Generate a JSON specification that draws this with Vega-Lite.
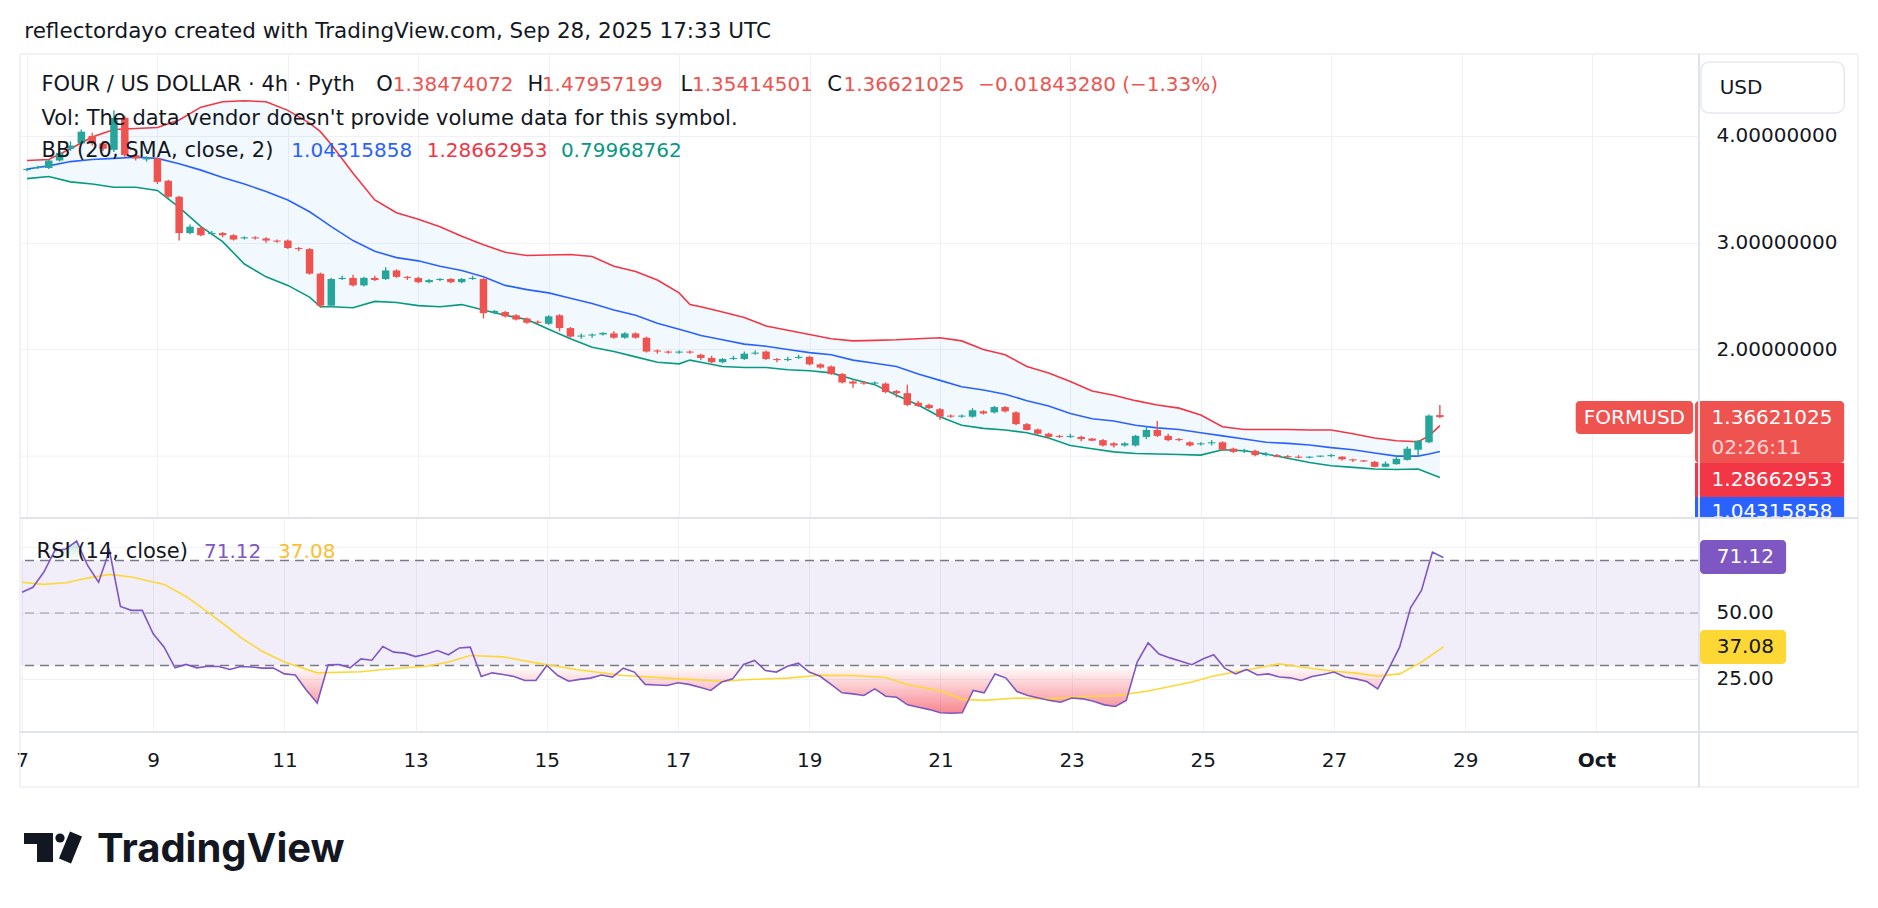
{
  "$schema": "https://vega.github.io/schema/vega-lite/v6.json",
  "autosize": "none",
  "padding": {"left": 21, "top": 54, "right": 1857, "bottom": 854},
  "background": "white",
  "bounds": "flush",
  "spacing": 0,
  "config": {
    "view": {"stroke": null},
    "font": "DejaVu Sans",
    "axis": {"domain": false, "ticks": false, "tickSize": 0, "title": null, "gridColor": "#eff1f5", "gridWidth": 1, "labelFont": "DejaVu Sans", "labelFontSize": 20, "labelColor": "#131722", "labelOverlap": false, "labelFlush": false},
    "text": {"font": "DejaVu Sans", "fontSize": 21, "align": "left", "baseline": "middle", "color": "#131722"}
  },
  "datasets": {
    "candles": [
      {"t":"2025-09-07T00:00Z","o":3.68,"h":3.70,"l":3.67,"c":3.69,"r":57.9},
      {"t":"2025-09-07T04:00Z","o":3.70,"h":3.72,"l":3.69,"c":3.71,"r":59.8},
      {"t":"2025-09-07T08:00Z","o":3.70,"h":3.78,"l":3.69,"c":3.77,"r":65.6},
      {"t":"2025-09-07T12:00Z","o":3.77,"h":3.86,"l":3.76,"c":3.84,"r":73.8},
      {"t":"2025-09-07T16:00Z","o":3.88,"h":3.95,"l":3.86,"c":3.91,"r":74.4},
      {"t":"2025-09-07T20:00Z","o":3.93,"h":4.06,"l":3.92,"c":4.04,"r":77.4},
      {"t":"2025-09-08T00:00Z","o":4.00,"h":4.03,"l":3.91,"c":3.93,"r":68.1},
      {"t":"2025-09-08T04:00Z","o":3.93,"h":3.95,"l":3.86,"c":3.88,"r":61.7},
      {"t":"2025-09-08T08:00Z","o":3.87,"h":4.24,"l":3.85,"c":4.17,"r":73.8},
      {"t":"2025-09-08T12:00Z","o":4.17,"h":4.19,"l":3.80,"c":3.82,"r":52.5},
      {"t":"2025-09-08T16:00Z","o":3.82,"h":3.84,"l":3.77,"c":3.79,"r":51.0},
      {"t":"2025-09-08T20:00Z","o":3.78,"h":3.81,"l":3.76,"c":3.79,"r":51.0},
      {"t":"2025-09-09T00:00Z","o":3.79,"h":3.80,"l":3.55,"c":3.57,"r":42.1},
      {"t":"2025-09-09T04:00Z","o":3.58,"h":3.59,"l":3.42,"c":3.43,"r":37.0},
      {"t":"2025-09-09T08:00Z","o":3.43,"h":3.44,"l":3.02,"c":3.09,"r":29.1},
      {"t":"2025-09-09T12:00Z","o":3.09,"h":3.17,"l":3.08,"c":3.15,"r":30.4},
      {"t":"2025-09-09T16:00Z","o":3.14,"h":3.15,"l":3.06,"c":3.07,"r":29.1},
      {"t":"2025-09-09T20:00Z","o":3.08,"h":3.11,"l":3.07,"c":3.09,"r":29.7},
      {"t":"2025-09-10T00:00Z","o":3.09,"h":3.10,"l":3.05,"c":3.07,"r":29.6},
      {"t":"2025-09-10T04:00Z","o":3.07,"h":3.08,"l":3.02,"c":3.03,"r":28.5},
      {"t":"2025-09-10T08:00Z","o":3.04,"h":3.06,"l":3.03,"c":3.05,"r":29.6},
      {"t":"2025-09-10T12:00Z","o":3.05,"h":3.06,"l":3.03,"c":3.04,"r":29.4},
      {"t":"2025-09-10T16:00Z","o":3.04,"h":3.05,"l":3.00,"c":3.02,"r":29.0},
      {"t":"2025-09-10T20:00Z","o":3.02,"h":3.03,"l":3.00,"c":3.01,"r":29.0},
      {"t":"2025-09-11T00:00Z","o":3.02,"h":3.03,"l":2.94,"c":2.95,"r":26.8},
      {"t":"2025-09-11T04:00Z","o":2.95,"h":2.96,"l":2.92,"c":2.94,"r":26.4},
      {"t":"2025-09-11T08:00Z","o":2.94,"h":2.95,"l":2.70,"c":2.71,"r":20.7},
      {"t":"2025-09-11T12:00Z","o":2.71,"h":2.72,"l":2.39,"c":2.41,"r":15.7},
      {"t":"2025-09-11T16:00Z","o":2.41,"h":2.67,"l":2.40,"c":2.66,"r":30.3},
      {"t":"2025-09-11T20:00Z","o":2.66,"h":2.69,"l":2.65,"c":2.67,"r":30.4},
      {"t":"2025-09-12T00:00Z","o":2.67,"h":2.70,"l":2.59,"c":2.60,"r":29.1},
      {"t":"2025-09-12T04:00Z","o":2.60,"h":2.68,"l":2.59,"c":2.67,"r":32.5},
      {"t":"2025-09-12T08:00Z","o":2.67,"h":2.69,"l":2.64,"c":2.65,"r":32.0},
      {"t":"2025-09-12T12:00Z","o":2.66,"h":2.77,"l":2.65,"c":2.74,"r":37.2},
      {"t":"2025-09-12T16:00Z","o":2.74,"h":2.75,"l":2.67,"c":2.68,"r":35.1},
      {"t":"2025-09-12T20:00Z","o":2.68,"h":2.69,"l":2.65,"c":2.67,"r":34.7},
      {"t":"2025-09-13T00:00Z","o":2.67,"h":2.68,"l":2.62,"c":2.63,"r":33.4},
      {"t":"2025-09-13T04:00Z","o":2.63,"h":2.66,"l":2.62,"c":2.65,"r":34.4},
      {"t":"2025-09-13T08:00Z","o":2.65,"h":2.67,"l":2.64,"c":2.66,"r":35.7},
      {"t":"2025-09-13T12:00Z","o":2.66,"h":2.67,"l":2.62,"c":2.63,"r":34.1},
      {"t":"2025-09-13T16:00Z","o":2.63,"h":2.67,"l":2.62,"c":2.66,"r":36.7},
      {"t":"2025-09-13T20:00Z","o":2.66,"h":2.69,"l":2.65,"c":2.67,"r":37.0},
      {"t":"2025-09-14T00:00Z","o":2.66,"h":2.67,"l":2.29,"c":2.34,"r":25.8},
      {"t":"2025-09-14T04:00Z","o":2.34,"h":2.37,"l":2.33,"c":2.36,"r":27.2},
      {"t":"2025-09-14T08:00Z","o":2.35,"h":2.36,"l":2.30,"c":2.31,"r":26.6},
      {"t":"2025-09-14T12:00Z","o":2.32,"h":2.33,"l":2.27,"c":2.28,"r":25.8},
      {"t":"2025-09-14T16:00Z","o":2.29,"h":2.30,"l":2.24,"c":2.25,"r":24.3},
      {"t":"2025-09-14T20:00Z","o":2.26,"h":2.27,"l":2.24,"c":2.25,"r":24.3},
      {"t":"2025-09-15T00:00Z","o":2.24,"h":2.32,"l":2.23,"c":2.31,"r":30.0},
      {"t":"2025-09-15T04:00Z","o":2.32,"h":2.33,"l":2.17,"c":2.20,"r":26.2},
      {"t":"2025-09-15T08:00Z","o":2.20,"h":2.21,"l":2.11,"c":2.12,"r":24.0},
      {"t":"2025-09-15T12:00Z","o":2.12,"h":2.15,"l":2.10,"c":2.13,"r":24.7},
      {"t":"2025-09-15T16:00Z","o":2.13,"h":2.15,"l":2.11,"c":2.14,"r":25.2},
      {"t":"2025-09-15T20:00Z","o":2.14,"h":2.16,"l":2.13,"c":2.155,"r":26.4},
      {"t":"2025-09-16T00:00Z","o":2.15,"h":2.17,"l":2.10,"c":2.11,"r":25.6},
      {"t":"2025-09-16T04:00Z","o":2.11,"h":2.16,"l":2.10,"c":2.15,"r":29.0},
      {"t":"2025-09-16T08:00Z","o":2.15,"h":2.16,"l":2.10,"c":2.11,"r":27.5},
      {"t":"2025-09-16T12:00Z","o":2.11,"h":2.12,"l":1.97,"c":1.98,"r":22.8},
      {"t":"2025-09-16T16:00Z","o":1.99,"h":2.00,"l":1.96,"c":1.98,"r":22.6},
      {"t":"2025-09-16T20:00Z","o":1.98,"h":1.99,"l":1.96,"c":1.97,"r":22.4},
      {"t":"2025-09-17T00:00Z","o":1.97,"h":1.99,"l":1.96,"c":1.98,"r":23.4},
      {"t":"2025-09-17T04:00Z","o":1.98,"h":1.99,"l":1.96,"c":1.97,"r":22.8},
      {"t":"2025-09-17T08:00Z","o":1.95,"h":1.96,"l":1.90,"c":1.92,"r":21.7},
      {"t":"2025-09-17T12:00Z","o":1.92,"h":1.94,"l":1.87,"c":1.88,"r":20.5},
      {"t":"2025-09-17T16:00Z","o":1.88,"h":1.92,"l":1.87,"c":1.91,"r":23.7},
      {"t":"2025-09-17T20:00Z","o":1.91,"h":1.94,"l":1.90,"c":1.92,"r":24.9},
      {"t":"2025-09-18T00:00Z","o":1.91,"h":1.98,"l":1.90,"c":1.96,"r":30.4},
      {"t":"2025-09-18T04:00Z","o":1.96,"h":1.99,"l":1.95,"c":1.97,"r":31.9},
      {"t":"2025-09-18T08:00Z","o":1.98,"h":1.99,"l":1.90,"c":1.91,"r":28.1},
      {"t":"2025-09-18T12:00Z","o":1.91,"h":1.92,"l":1.88,"c":1.90,"r":27.5},
      {"t":"2025-09-18T16:00Z","o":1.90,"h":1.93,"l":1.89,"c":1.91,"r":29.7},
      {"t":"2025-09-18T20:00Z","o":1.92,"h":1.95,"l":1.91,"c":1.93,"r":30.9},
      {"t":"2025-09-19T00:00Z","o":1.93,"h":1.94,"l":1.85,"c":1.86,"r":27.5},
      {"t":"2025-09-19T04:00Z","o":1.86,"h":1.87,"l":1.82,"c":1.83,"r":25.9},
      {"t":"2025-09-19T08:00Z","o":1.84,"h":1.85,"l":1.76,"c":1.77,"r":22.8},
      {"t":"2025-09-19T12:00Z","o":1.77,"h":1.78,"l":1.68,"c":1.69,"r":19.6},
      {"t":"2025-09-19T16:00Z","o":1.70,"h":1.71,"l":1.64,"c":1.68,"r":19.2},
      {"t":"2025-09-19T20:00Z","o":1.69,"h":1.70,"l":1.67,"c":1.68,"r":18.6},
      {"t":"2025-09-20T00:00Z","o":1.68,"h":1.70,"l":1.67,"c":1.69,"r":21.1},
      {"t":"2025-09-20T04:00Z","o":1.68,"h":1.69,"l":1.59,"c":1.60,"r":18.3},
      {"t":"2025-09-20T08:00Z","o":1.61,"h":1.62,"l":1.55,"c":1.59,"r":17.9},
      {"t":"2025-09-20T12:00Z","o":1.59,"h":1.67,"l":1.47,"c":1.48,"r":15.0},
      {"t":"2025-09-20T16:00Z","o":1.50,"h":1.52,"l":1.46,"c":1.47,"r":14.1},
      {"t":"2025-09-20T20:00Z","o":1.48,"h":1.49,"l":1.44,"c":1.45,"r":13.2},
      {"t":"2025-09-21T00:00Z","o":1.44,"h":1.45,"l":1.34,"c":1.37,"r":12.0},
      {"t":"2025-09-21T04:00Z","o":1.38,"h":1.39,"l":1.36,"c":1.37,"r":11.8},
      {"t":"2025-09-21T08:00Z","o":1.37,"h":1.39,"l":1.36,"c":1.38,"r":12.0},
      {"t":"2025-09-21T12:00Z","o":1.37,"h":1.45,"l":1.36,"c":1.43,"r":20.5},
      {"t":"2025-09-21T16:00Z","o":1.42,"h":1.43,"l":1.39,"c":1.40,"r":19.6},
      {"t":"2025-09-21T20:00Z","o":1.41,"h":1.47,"l":1.40,"c":1.46,"r":26.8},
      {"t":"2025-09-22T00:00Z","o":1.46,"h":1.47,"l":1.41,"c":1.42,"r":25.2},
      {"t":"2025-09-22T04:00Z","o":1.41,"h":1.42,"l":1.29,"c":1.30,"r":20.1},
      {"t":"2025-09-22T08:00Z","o":1.30,"h":1.31,"l":1.24,"c":1.245,"r":18.6},
      {"t":"2025-09-22T12:00Z","o":1.25,"h":1.26,"l":1.20,"c":1.21,"r":17.6},
      {"t":"2025-09-22T16:00Z","o":1.21,"h":1.22,"l":1.17,"c":1.18,"r":16.7},
      {"t":"2025-09-22T20:00Z","o":1.19,"h":1.20,"l":1.17,"c":1.18,"r":16.0},
      {"t":"2025-09-23T00:00Z","o":1.18,"h":1.21,"l":1.17,"c":1.19,"r":17.6},
      {"t":"2025-09-23T04:00Z","o":1.18,"h":1.19,"l":1.14,"c":1.16,"r":17.3},
      {"t":"2025-09-23T08:00Z","o":1.165,"h":1.17,"l":1.14,"c":1.145,"r":16.4},
      {"t":"2025-09-23T12:00Z","o":1.15,"h":1.16,"l":1.09,"c":1.10,"r":15.0},
      {"t":"2025-09-23T16:00Z","o":1.12,"h":1.13,"l":1.08,"c":1.10,"r":14.4},
      {"t":"2025-09-23T20:00Z","o":1.10,"h":1.13,"l":1.09,"c":1.12,"r":16.7},
      {"t":"2025-09-24T00:00Z","o":1.10,"h":1.20,"l":1.09,"c":1.19,"r":31.3},
      {"t":"2025-09-24T04:00Z","o":1.18,"h":1.28,"l":1.16,"c":1.245,"r":38.6},
      {"t":"2025-09-24T08:00Z","o":1.245,"h":1.33,"l":1.18,"c":1.19,"r":34.4},
      {"t":"2025-09-24T12:00Z","o":1.19,"h":1.21,"l":1.14,"c":1.15,"r":32.9},
      {"t":"2025-09-24T16:00Z","o":1.16,"h":1.17,"l":1.14,"c":1.15,"r":31.6},
      {"t":"2025-09-24T20:00Z","o":1.13,"h":1.14,"l":1.09,"c":1.10,"r":30.3},
      {"t":"2025-09-25T00:00Z","o":1.11,"h":1.13,"l":1.10,"c":1.12,"r":32.5},
      {"t":"2025-09-25T04:00Z","o":1.12,"h":1.15,"l":1.10,"c":1.13,"r":34.1},
      {"t":"2025-09-25T08:00Z","o":1.13,"h":1.14,"l":1.05,"c":1.06,"r":29.0},
      {"t":"2025-09-25T12:00Z","o":1.07,"h":1.08,"l":1.03,"c":1.04,"r":26.8},
      {"t":"2025-09-25T16:00Z","o":1.045,"h":1.07,"l":1.03,"c":1.055,"r":28.5},
      {"t":"2025-09-25T20:00Z","o":1.05,"h":1.06,"l":1.00,"c":1.01,"r":26.4},
      {"t":"2025-09-26T00:00Z","o":1.01,"h":1.04,"l":1.00,"c":1.02,"r":26.8},
      {"t":"2025-09-26T04:00Z","o":1.01,"h":1.02,"l":0.99,"c":0.995,"r":25.6},
      {"t":"2025-09-26T08:00Z","o":1.00,"h":1.01,"l":0.98,"c":0.99,"r":25.3},
      {"t":"2025-09-26T12:00Z","o":0.995,"h":1.01,"l":0.98,"c":0.985,"r":24.3},
      {"t":"2025-09-26T16:00Z","o":0.985,"h":1.00,"l":0.98,"c":0.995,"r":25.8},
      {"t":"2025-09-26T20:00Z","o":0.995,"h":1.005,"l":0.99,"c":1.005,"r":26.6},
      {"t":"2025-09-27T00:00Z","o":1.00,"h":1.02,"l":0.99,"c":1.01,"r":27.5},
      {"t":"2025-09-27T04:00Z","o":0.995,"h":1.00,"l":0.96,"c":0.97,"r":25.6},
      {"t":"2025-09-27T08:00Z","o":0.97,"h":0.975,"l":0.945,"c":0.96,"r":24.9},
      {"t":"2025-09-27T12:00Z","o":0.96,"h":0.965,"l":0.945,"c":0.95,"r":23.9},
      {"t":"2025-09-27T16:00Z","o":0.947,"h":0.955,"l":0.895,"c":0.90,"r":21.1},
      {"t":"2025-09-27T20:00Z","o":0.90,"h":0.95,"l":0.895,"c":0.93,"r":28.7},
      {"t":"2025-09-28T00:00Z","o":0.925,"h":1.01,"l":0.92,"c":0.975,"r":37.0},
      {"t":"2025-09-28T04:00Z","o":0.965,"h":1.09,"l":0.96,"c":1.07,"r":52.0},
      {"t":"2025-09-28T08:00Z","o":1.06,"h":1.15,"l":0.995,"c":1.145,"r":58.6},
      {"t":"2025-09-28T12:00Z","o":1.13,"h":1.39,"l":1.12,"c":1.38,"r":73.2},
      {"t":"2025-09-28T16:00Z","o":1.38474072,"h":1.47957199,"l":1.35414501,"c":1.36621025,"r":71.12}
    ],
    "bb": [
      {"t":"2025-09-07T00:00Z","u":3.77,"m":3.69,"lo":3.60},
      {"t":"2025-09-07T08:00Z","u":3.78,"m":3.72,"lo":3.62},
      {"t":"2025-09-07T16:00Z","u":3.88,"m":3.76,"lo":3.57},
      {"t":"2025-09-08T00:00Z","u":3.99,"m":3.78,"lo":3.55},
      {"t":"2025-09-08T08:00Z","u":4.06,"m":3.79,"lo":3.52},
      {"t":"2025-09-08T16:00Z","u":4.07,"m":3.80,"lo":3.52},
      {"t":"2025-09-09T00:00Z","u":4.08,"m":3.79,"lo":3.49},
      {"t":"2025-09-09T08:00Z","u":4.15,"m":3.74,"lo":3.33},
      {"t":"2025-09-09T16:00Z","u":4.27,"m":3.68,"lo":3.15},
      {"t":"2025-09-10T00:00Z","u":4.32,"m":3.61,"lo":3.01},
      {"t":"2025-09-10T08:00Z","u":4.33,"m":3.55,"lo":2.80},
      {"t":"2025-09-10T16:00Z","u":4.32,"m":3.48,"lo":2.68},
      {"t":"2025-09-11T00:00Z","u":4.24,"m":3.40,"lo":2.60},
      {"t":"2025-09-11T08:00Z","u":4.12,"m":3.29,"lo":2.49},
      {"t":"2025-09-11T12:00Z","u":4.04,"m":3.22,"lo":2.40},
      {"t":"2025-09-11T16:00Z","u":3.92,"m":3.15,"lo":2.40},
      {"t":"2025-09-12T00:00Z","u":3.65,"m":3.02,"lo":2.39},
      {"t":"2025-09-12T08:00Z","u":3.40,"m":2.92,"lo":2.45},
      {"t":"2025-09-12T16:00Z","u":3.28,"m":2.86,"lo":2.44},
      {"t":"2025-09-13T00:00Z","u":3.22,"m":2.83,"lo":2.41},
      {"t":"2025-09-13T08:00Z","u":3.15,"m":2.78,"lo":2.40},
      {"t":"2025-09-13T16:00Z","u":3.06,"m":2.74,"lo":2.42},
      {"t":"2025-09-14T00:00Z","u":2.98,"m":2.68,"lo":2.37},
      {"t":"2025-09-14T08:00Z","u":2.91,"m":2.60,"lo":2.32},
      {"t":"2025-09-14T16:00Z","u":2.88,"m":2.56,"lo":2.28},
      {"t":"2025-09-15T00:00Z","u":2.885,"m":2.53,"lo":2.19},
      {"t":"2025-09-15T08:00Z","u":2.89,"m":2.48,"lo":2.10},
      {"t":"2025-09-15T16:00Z","u":2.87,"m":2.43,"lo":2.02},
      {"t":"2025-09-16T00:00Z","u":2.78,"m":2.37,"lo":1.98},
      {"t":"2025-09-16T08:00Z","u":2.73,"m":2.32,"lo":1.93},
      {"t":"2025-09-16T16:00Z","u":2.65,"m":2.245,"lo":1.88},
      {"t":"2025-09-17T00:00Z","u":2.53,"m":2.19,"lo":1.865},
      {"t":"2025-09-17T04:00Z","u":2.42,"m":2.16,"lo":1.90},
      {"t":"2025-09-17T08:00Z","u":2.40,"m":2.13,"lo":1.88},
      {"t":"2025-09-17T16:00Z","u":2.35,"m":2.09,"lo":1.84},
      {"t":"2025-09-18T00:00Z","u":2.30,"m":2.05,"lo":1.83},
      {"t":"2025-09-18T08:00Z","u":2.22,"m":2.03,"lo":1.83},
      {"t":"2025-09-18T16:00Z","u":2.18,"m":2.00,"lo":1.81},
      {"t":"2025-09-19T00:00Z","u":2.14,"m":1.97,"lo":1.80},
      {"t":"2025-09-19T08:00Z","u":2.10,"m":1.95,"lo":1.78},
      {"t":"2025-09-19T16:00Z","u":2.08,"m":1.90,"lo":1.72},
      {"t":"2025-09-20T00:00Z","u":2.085,"m":1.87,"lo":1.67},
      {"t":"2025-09-20T08:00Z","u":2.09,"m":1.84,"lo":1.57},
      {"t":"2025-09-20T16:00Z","u":2.10,"m":1.77,"lo":1.48},
      {"t":"2025-09-21T00:00Z","u":2.11,"m":1.71,"lo":1.37},
      {"t":"2025-09-21T08:00Z","u":2.08,"m":1.65,"lo":1.29},
      {"t":"2025-09-21T16:00Z","u":2.00,"m":1.62,"lo":1.26},
      {"t":"2025-09-22T00:00Z","u":1.95,"m":1.58,"lo":1.245},
      {"t":"2025-09-22T08:00Z","u":1.84,"m":1.52,"lo":1.22},
      {"t":"2025-09-22T16:00Z","u":1.78,"m":1.47,"lo":1.17},
      {"t":"2025-09-23T00:00Z","u":1.70,"m":1.40,"lo":1.10},
      {"t":"2025-09-23T08:00Z","u":1.61,"m":1.35,"lo":1.07},
      {"t":"2025-09-23T16:00Z","u":1.57,"m":1.33,"lo":1.04},
      {"t":"2025-09-24T00:00Z","u":1.52,"m":1.29,"lo":1.025},
      {"t":"2025-09-24T08:00Z","u":1.48,"m":1.265,"lo":1.02},
      {"t":"2025-09-24T16:00Z","u":1.45,"m":1.25,"lo":1.015},
      {"t":"2025-09-25T00:00Z","u":1.385,"m":1.22,"lo":1.01},
      {"t":"2025-09-25T08:00Z","u":1.275,"m":1.19,"lo":1.06},
      {"t":"2025-09-25T16:00Z","u":1.25,"m":1.16,"lo":1.05},
      {"t":"2025-09-26T00:00Z","u":1.25,"m":1.13,"lo":1.02},
      {"t":"2025-09-26T08:00Z","u":1.25,"m":1.12,"lo":0.98},
      {"t":"2025-09-26T16:00Z","u":1.245,"m":1.105,"lo":0.94},
      {"t":"2025-09-27T00:00Z","u":1.245,"m":1.08,"lo":0.91},
      {"t":"2025-09-27T08:00Z","u":1.21,"m":1.06,"lo":0.895},
      {"t":"2025-09-27T16:00Z","u":1.17,"m":1.03,"lo":0.88},
      {"t":"2025-09-28T00:00Z","u":1.145,"m":1.00,"lo":0.875},
      {"t":"2025-09-28T08:00Z","u":1.135,"m":1.00,"lo":0.88},
      {"t":"2025-09-28T12:00Z","u":1.19,"m":1.02,"lo":0.84},
      {"t":"2025-09-28T16:00Z","u":1.28662953,"m":1.04315858,"lo":0.79968762}
    ],
    "ma": [
      {"t":"2025-09-07T00:00Z","v":61.7},{"t":"2025-09-07T08:00Z","v":60.9},{"t":"2025-09-07T16:00Z","v":61.5},
      {"t":"2025-09-08T00:00Z","v":63.3},{"t":"2025-09-08T08:00Z","v":64.7},{"t":"2025-09-08T16:00Z","v":63.7},
      {"t":"2025-09-09T04:00Z","v":60.9},{"t":"2025-09-09T12:00Z","v":56.3},{"t":"2025-09-09T20:00Z","v":50.3},
      {"t":"2025-09-10T04:00Z","v":44.0},{"t":"2025-09-10T08:00Z","v":40.7},{"t":"2025-09-10T16:00Z","v":35.3},
      {"t":"2025-09-11T00:00Z","v":31.3},{"t":"2025-09-11T12:00Z","v":27.2},{"t":"2025-09-12T04:00Z","v":27.6},
      {"t":"2025-09-12T12:00Z","v":28.5},{"t":"2025-09-13T04:00Z","v":29.7},{"t":"2025-09-13T12:00Z","v":31.3},
      {"t":"2025-09-13T20:00Z","v":33.8},{"t":"2025-09-14T08:00Z","v":33.3},{"t":"2025-09-14T20:00Z","v":31.0},
      {"t":"2025-09-15T12:00Z","v":28.3},{"t":"2025-09-16T04:00Z","v":26.2},{"t":"2025-09-16T20:00Z","v":25.2},
      {"t":"2025-09-17T08:00Z","v":24.5},{"t":"2025-09-17T16:00Z","v":23.9},{"t":"2025-09-18T00:00Z","v":24.6},
      {"t":"2025-09-18T16:00Z","v":25.2},{"t":"2025-09-19T04:00Z","v":26.3},{"t":"2025-09-19T16:00Z","v":26.2},
      {"t":"2025-09-20T04:00Z","v":25.4},{"t":"2025-09-20T12:00Z","v":22.7},{"t":"2025-09-21T00:00Z","v":20.4},
      {"t":"2025-09-21T08:00Z","v":17.1},{"t":"2025-09-21T16:00Z","v":16.7},{"t":"2025-09-22T04:00Z","v":17.6},
      {"t":"2025-09-22T16:00Z","v":17.3},{"t":"2025-09-23T04:00Z","v":18.2},{"t":"2025-09-23T16:00Z","v":18.5},
      {"t":"2025-09-24T04:00Z","v":20.3},{"t":"2025-09-24T20:00Z","v":23.7},{"t":"2025-09-25T04:00Z","v":26.0},
      {"t":"2025-09-25T16:00Z","v":28.3},{"t":"2025-09-26T04:00Z","v":30.6},{"t":"2025-09-26T12:00Z","v":29.4},
      {"t":"2025-09-27T00:00Z","v":27.8},{"t":"2025-09-27T08:00Z","v":27.1},{"t":"2025-09-27T16:00Z","v":25.9},
      {"t":"2025-09-28T00:00Z","v":26.8},{"t":"2025-09-28T08:00Z","v":31.3},{"t":"2025-09-28T16:00Z","v":37.08}
    ]
  },
  "vconcat": [
    {
      "width": 1678,
      "height": 464,
      "data": {"values": [{}]},
      "layer": [
        {
          "data": {"name": "bb"},
          "mark": {"type": "area", "color": "#2196f3", "opacity": 0.06},
          "encoding": {
            "x": {"field": "t", "type": "temporal",
              "scale": {"type": "utc", "nice": false, "domain": [{"year":2025,"month":9,"date":6,"hours":23,"minutes":38,"utc":true}, {"year":2025,"month":10,"date":2,"hours":13,"minutes":32,"utc":true}]},
              "axis": {"labels": false, "grid": true, "values": [
                {"year":2025,"month":9,"date":7,"utc":true},{"year":2025,"month":9,"date":9,"utc":true},{"year":2025,"month":9,"date":11,"utc":true},
                {"year":2025,"month":9,"date":13,"utc":true},{"year":2025,"month":9,"date":15,"utc":true},{"year":2025,"month":9,"date":17,"utc":true},
                {"year":2025,"month":9,"date":19,"utc":true},{"year":2025,"month":9,"date":21,"utc":true},{"year":2025,"month":9,"date":23,"utc":true},
                {"year":2025,"month":9,"date":25,"utc":true},{"year":2025,"month":9,"date":27,"utc":true},{"year":2025,"month":9,"date":29,"utc":true},
                {"year":2025,"month":10,"date":1,"utc":true}]}},
            "y": {"field": "u", "type": "quantitative",
              "scale": {"domain": [0.4205, 4.768], "nice": false, "zero": false},
              "axis": {"orient": "right", "values": [2, 3, 4], "format": ".8f", "grid": true, "labelPadding": 17, "labelAlign": "left"}},
            "y2": {"field": "lo"}
          }
        },
        {"mark": {"type": "rule", "color": "#eff1f5", "strokeWidth": 1}, "encoding": {"y": {"datum": 1}}},
        {"data": {"name": "bb"}, "mark": {"type": "line", "color": "#f23645", "strokeWidth": 1.6},
         "encoding": {"x": {"field": "t", "type": "temporal"}, "y": {"field": "u", "type": "quantitative"}}},
        {"data": {"name": "bb"}, "mark": {"type": "line", "color": "#2962ff", "strokeWidth": 1.6},
         "encoding": {"x": {"field": "t", "type": "temporal"}, "y": {"field": "m", "type": "quantitative"}}},
        {"data": {"name": "bb"}, "mark": {"type": "line", "color": "#089981", "strokeWidth": 1.6},
         "encoding": {"x": {"field": "t", "type": "temporal"}, "y": {"field": "lo", "type": "quantitative"}}},
        {"data": {"name": "candles"}, "mark": {"type": "rule", "strokeWidth": 1.4},
         "encoding": {"x": {"field": "t", "type": "temporal"}, "y": {"field": "l", "type": "quantitative"}, "y2": {"field": "h"},
           "color": {"condition": {"test": "datum.c >= datum.o", "value": "#26a69a"}, "value": "#ef5350"}}},
        {"data": {"name": "candles"}, "mark": {"type": "bar", "width": 7.5},
         "encoding": {"x": {"field": "t", "type": "temporal"}, "y": {"field": "o", "type": "quantitative"}, "y2": {"field": "c"},
           "color": {"condition": {"test": "datum.c >= datum.o", "value": "#26a69a"}, "value": "#ef5350"}}},

        {"mark": {"type": "text", "text": "reflectordayo created with TradingView.com, Sep 28, 2025 17:33 UTC", "fontSize": 21.5},
         "encoding": {"x": {"datum": {"year":2025,"month":9,"date":6,"hours":23,"minutes":0,"utc":true}, "type": "temporal"}, "y": {"datum": 4.9745}}},
        {"mark": {"type": "text", "text": "FOUR / US DOLLAR · 4h · Pyth"},
         "encoding": {"x": {"datum": {"year":2025,"month":9,"date":7,"hours":5,"minutes":20,"utc":true}, "type": "temporal"}, "y": {"datum": 4.473}}},
        {"mark": {"type": "text", "text": "O"},
         "encoding": {"x": {"datum": {"year":2025,"month":9,"date":12,"hours":8,"minutes":30,"utc":true}, "type": "temporal"}, "y": {"datum": 4.473}}},
        {"mark": {"type": "text", "text": "1.38474072", "color": "#ef5350", "fontSize": 20},
         "encoding": {"x": {"datum": {"year":2025,"month":9,"date":12,"hours":14,"minutes":36,"utc":true}, "type": "temporal"}, "y": {"datum": 4.473}}},
        {"mark": {"type": "text", "text": "H"},
         "encoding": {"x": {"datum": {"year":2025,"month":9,"date":14,"hours":16,"minutes":15,"utc":true}, "type": "temporal"}, "y": {"datum": 4.473}}},
        {"mark": {"type": "text", "text": "1.47957199", "color": "#ef5350", "fontSize": 20},
         "encoding": {"x": {"datum": {"year":2025,"month":9,"date":14,"hours":21,"minutes":30,"utc":true}, "type": "temporal"}, "y": {"datum": 4.473}}},
        {"mark": {"type": "text", "text": "L"},
         "encoding": {"x": {"datum": {"year":2025,"month":9,"date":17,"hours":0,"minutes":30,"utc":true}, "type": "temporal"}, "y": {"datum": 4.473}}},
        {"mark": {"type": "text", "text": "1.35414501", "color": "#ef5350", "fontSize": 20},
         "encoding": {"x": {"datum": {"year":2025,"month":9,"date":17,"hours":4,"minutes":45,"utc":true}, "type": "temporal"}, "y": {"datum": 4.473}}},
        {"mark": {"type": "text", "text": "C"},
         "encoding": {"x": {"datum": {"year":2025,"month":9,"date":19,"hours":6,"minutes":30,"utc":true}, "type": "temporal"}, "y": {"datum": 4.473}}},
        {"mark": {"type": "text", "text": "1.36621025", "color": "#ef5350", "fontSize": 20},
         "encoding": {"x": {"datum": {"year":2025,"month":9,"date":19,"hours":12,"minutes":30,"utc":true}, "type": "temporal"}, "y": {"datum": 4.473}}},
        {"mark": {"type": "text", "text": "−0.01843280 (−1.33%)", "color": "#ef5350", "fontSize": 20},
         "encoding": {"x": {"datum": {"year":2025,"month":9,"date":21,"hours":14,"minutes":6,"utc":true}, "type": "temporal"}, "y": {"datum": 4.473}}},
        {"mark": {"type": "text", "text": "Vol: The data vendor doesn't provide volume data for this symbol."},
         "encoding": {"x": {"datum": {"year":2025,"month":9,"date":7,"hours":5,"minutes":20,"utc":true}, "type": "temporal"}, "y": {"datum": 4.155}}},
        {"mark": {"type": "text", "text": "BB (20, SMA, close, 2)"},
         "encoding": {"x": {"datum": {"year":2025,"month":9,"date":7,"hours":5,"minutes":20,"utc":true}, "type": "temporal"}, "y": {"datum": 3.855}}},
        {"mark": {"type": "text", "text": "1.04315858", "color": "#2962ff", "fontSize": 20},
         "encoding": {"x": {"datum": {"year":2025,"month":9,"date":11,"hours":1,"minutes":18,"utc":true}, "type": "temporal"}, "y": {"datum": 3.855}}},
        {"mark": {"type": "text", "text": "1.28662953", "color": "#f23645", "fontSize": 20},
         "encoding": {"x": {"datum": {"year":2025,"month":9,"date":13,"hours":3,"minutes":6,"utc":true}, "type": "temporal"}, "y": {"datum": 3.855}}},
        {"mark": {"type": "text", "text": "0.79968762", "color": "#089981", "fontSize": 20},
         "encoding": {"x": {"datum": {"year":2025,"month":9,"date":15,"hours":4,"minutes":30,"utc":true}, "type": "temporal"}, "y": {"datum": 3.855}}},

        {"mark": {"type": "rect", "fill": "white", "stroke": "#e6e9ef", "strokeWidth": 1.5, "cornerRadius": 8},
         "encoding": {"x": {"datum": {"year":2025,"month":10,"date":2,"hours":16,"minutes":6,"utc":true}, "type": "temporal"}, "x2": {"datum": {"year":2025,"month":10,"date":4,"hours":20,"minutes":48,"utc":true}},
           "y": {"datum": 4.693}, "y2": {"datum": 4.216}}},
        {"mark": {"type": "text", "text": "USD", "fontSize": 20},
         "encoding": {"x": {"datum": {"year":2025,"month":10,"date":2,"hours":23,"minutes":0,"utc":true}, "type": "temporal"}, "y": {"datum": 4.45}}},

        {"mark": {"type": "rect", "color": "#ef5350", "cornerRadius": 4},
         "encoding": {"x": {"datum": {"year":2025,"month":9,"date":30,"hours":18,"minutes":0,"utc":true}, "type": "temporal"}, "x2": {"datum": {"year":2025,"month":10,"date":2,"hours":13,"minutes":12,"utc":true}},
           "y": {"datum": 1.517}, "y2": {"datum": 1.208}}},
        {"mark": {"type": "text", "text": "FORMUSD", "color": "white", "align": "center", "fontSize": 20},
         "encoding": {"x": {"datum": {"year":2025,"month":10,"date":1,"hours":15,"minutes":36,"utc":true}, "type": "temporal"}, "y": {"datum": 1.358}}},
        {"mark": {"type": "rect", "color": "#ef5350", "cornerRadius": 4},
         "encoding": {"x": {"datum": {"year":2025,"month":10,"date":2,"hours":13,"minutes":54,"utc":true}, "type": "temporal"}, "x2": {"datum": {"year":2025,"month":10,"date":4,"hours":20,"minutes":48,"utc":true}},
           "y": {"datum": 1.517}, "y2": {"datum": 0.936}}},
        {"mark": {"type": "rect", "color": "#f23645"},
         "encoding": {"x": {"datum": {"year":2025,"month":10,"date":2,"hours":13,"minutes":54,"utc":true}, "type": "temporal"}, "x2": {"datum": {"year":2025,"month":10,"date":4,"hours":20,"minutes":48,"utc":true}},
           "y": {"datum": 0.936}, "y2": {"datum": 0.617}}},
        {"mark": {"type": "rect", "color": "#2962ff"},
         "encoding": {"x": {"datum": {"year":2025,"month":10,"date":2,"hours":13,"minutes":54,"utc":true}, "type": "temporal"}, "x2": {"datum": {"year":2025,"month":10,"date":4,"hours":20,"minutes":48,"utc":true}},
           "y": {"datum": 0.617}, "y2": {"datum": 0.4205}}},
        {"mark": {"type": "text", "text": "1.36621025", "color": "white", "fontSize": 20},
         "encoding": {"x": {"datum": {"year":2025,"month":10,"date":2,"hours":20,"minutes":0,"utc":true}, "type": "temporal"}, "y": {"datum": 1.358}}},
        {"mark": {"type": "text", "text": "02:26:11", "color": "rgba(255,255,255,0.75)", "fontSize": 20},
         "encoding": {"x": {"datum": {"year":2025,"month":10,"date":2,"hours":20,"minutes":0,"utc":true}, "type": "temporal"}, "y": {"datum": 1.076}}},
        {"mark": {"type": "text", "text": "1.28662953", "color": "white", "fontSize": 20},
         "encoding": {"x": {"datum": {"year":2025,"month":10,"date":2,"hours":20,"minutes":0,"utc":true}, "type": "temporal"}, "y": {"datum": 0.777}}},
        {"mark": {"type": "text", "text": "1.04315858", "color": "white", "fontSize": 20},
         "encoding": {"x": {"datum": {"year":2025,"month":10,"date":2,"hours":20,"minutes":0,"utc":true}, "type": "temporal"}, "y": {"datum": 0.477}}}
      ]
    },
    {
      "width": 1678,
      "height": 214,
      "data": {"values": [{}]},
      "layer": [
        {"mark": {"type": "rect", "color": "#7e57c2", "opacity": 0.1},
         "encoding": {
           "x": {"datum": {"year":2025,"month":9,"date":6,"hours":23,"minutes":38,"utc":true}, "type": "temporal",
             "scale": {"type": "utc", "nice": false, "domain": [{"year":2025,"month":9,"date":6,"hours":23,"minutes":38,"utc":true}, {"year":2025,"month":10,"date":2,"hours":13,"minutes":32,"utc":true}]},
             "axis": {"orient": "bottom", "grid": true, "labelBaseline": "middle", "labelPadding": 28,
               "labelExpr": "utcdate(datum.value) == 1 ? 'Oct' : '' + utcdate(datum.value)",
               "labelFontWeight": {"condition": {"test": "utcdate(datum.value) == 1", "value": "bold"}, "value": "normal"},
               "values": [
                {"year":2025,"month":9,"date":7,"utc":true},{"year":2025,"month":9,"date":9,"utc":true},{"year":2025,"month":9,"date":11,"utc":true},
                {"year":2025,"month":9,"date":13,"utc":true},{"year":2025,"month":9,"date":15,"utc":true},{"year":2025,"month":9,"date":17,"utc":true},
                {"year":2025,"month":9,"date":19,"utc":true},{"year":2025,"month":9,"date":21,"utc":true},{"year":2025,"month":9,"date":23,"utc":true},
                {"year":2025,"month":9,"date":25,"utc":true},{"year":2025,"month":9,"date":27,"utc":true},{"year":2025,"month":9,"date":29,"utc":true},
                {"year":2025,"month":10,"date":1,"utc":true}]}},
           "x2": {"datum": {"year":2025,"month":10,"date":2,"hours":13,"minutes":32,"utc":true}},
           "y": {"datum": 70, "type": "quantitative",
             "scale": {"domain": [4.667, 86.19], "nice": false, "zero": false},
             "axis": {"orient": "right", "values": [25, 50], "format": ".2f", "grid": true, "labelPadding": 17, "labelAlign": "left"}},
           "y2": {"datum": 30}}},
        {"mark": {"type": "rule", "color": "#eff1f5", "strokeWidth": 1}, "encoding": {"y": {"datum": 75}}},
        {"mark": {"type": "rule", "color": "#787b86", "strokeWidth": 1.5, "strokeDash": [9, 6]}, "encoding": {"y": {"datum": 70}}},
        {"mark": {"type": "rule", "color": "#787b86", "strokeWidth": 1.5, "strokeDash": [9, 6], "opacity": 0.5}, "encoding": {"y": {"datum": 50}}},
        {"mark": {"type": "rule", "color": "#787b86", "strokeWidth": 1.5, "strokeDash": [9, 6]}, "encoding": {"y": {"datum": 30}}},
        {"data": {"name": "candles"},
         "mark": {"type": "area", "color": {"gradient": "linear", "x1": 0, "y1": 0, "x2": 0, "y2": 1,
           "stops": [{"offset": 0, "color": "rgba(242,54,69,0)"}, {"offset": 0.7226, "color": "rgba(242,54,69,0)"}, {"offset": 1, "color": "rgba(242,54,69,0.6)"}]}},
         "encoding": {"x": {"field": "t", "type": "temporal"}, "y": {"field": "r", "type": "quantitative"}, "y2": {"datum": 30}}},
        {"data": {"name": "candles"},
         "mark": {"type": "area", "color": {"gradient": "linear", "x1": 0, "y1": 0, "x2": 0, "y2": 1,
           "stops": [{"offset": 0, "color": "rgba(8,153,129,0.25)"}, {"offset": 0.1128, "color": "rgba(8,153,129,0)"}, {"offset": 1, "color": "rgba(8,153,129,0)"}]}},
         "encoding": {"x": {"field": "t", "type": "temporal"}, "y": {"field": "r", "type": "quantitative"}, "y2": {"datum": 70}}},
        {"data": {"name": "ma"}, "mark": {"type": "line", "color": "#fdd835", "strokeWidth": 1.6},
         "encoding": {"x": {"field": "t", "type": "temporal"}, "y": {"field": "v", "type": "quantitative"}}},
        {"data": {"name": "candles"}, "mark": {"type": "line", "color": "#7e57c2", "strokeWidth": 1.6},
         "encoding": {"x": {"field": "t", "type": "temporal"}, "y": {"field": "r", "type": "quantitative"}}},

        {"mark": {"type": "text", "text": "RSI (14, close)"},
         "encoding": {"x": {"datum": {"year":2025,"month":9,"date":7,"hours":5,"minutes":20,"utc":true}, "type": "temporal"}, "y": {"datum": 73.35}}},
        {"mark": {"type": "text", "text": "71.12", "color": "#7e57c2", "fontSize": 20},
         "encoding": {"x": {"datum": {"year":2025,"month":9,"date":9,"hours":18,"minutes":36,"utc":true}, "type": "temporal"}, "y": {"datum": 73.35}}},
        {"mark": {"type": "text", "text": "37.08", "color": "#fbc02d", "fontSize": 20},
         "encoding": {"x": {"datum": {"year":2025,"month":9,"date":10,"hours":21,"minutes":42,"utc":true}, "type": "temporal"}, "y": {"datum": 73.35}}},

        {"mark": {"type": "rect", "fill": "white"},
         "encoding": {"x": {"datum": {"year":2025,"month":10,"date":2,"hours":13,"minutes":54,"utc":true}, "type": "temporal"}, "x2": {"datum": {"year":2025,"month":10,"date":4,"hours":23,"minutes":42,"utc":true}},
           "y": {"datum": 86.19}, "y2": {"datum": 79.5}}},
        {"mark": {"type": "rect", "color": "#7e57c2", "cornerRadius": 4},
         "encoding": {"x": {"datum": {"year":2025,"month":10,"date":2,"hours":13,"minutes":54,"utc":true}, "type": "temporal"}, "x2": {"datum": {"year":2025,"month":10,"date":3,"hours":21,"minutes":24,"utc":true}},
           "y": {"datum": 77.81}, "y2": {"datum": 64.86}}},
        {"mark": {"type": "text", "text": "71.12", "color": "white", "fontSize": 20},
         "encoding": {"x": {"datum": {"year":2025,"month":10,"date":2,"hours":20,"minutes":0,"utc":true}, "type": "temporal"}, "y": {"datum": 71.33}}},
        {"mark": {"type": "rect", "color": "#fdd835", "cornerRadius": 4},
         "encoding": {"x": {"datum": {"year":2025,"month":10,"date":2,"hours":13,"minutes":54,"utc":true}, "type": "temporal"}, "x2": {"datum": {"year":2025,"month":10,"date":3,"hours":21,"minutes":24,"utc":true}},
           "y": {"datum": 43.52}, "y2": {"datum": 30.57}}},
        {"mark": {"type": "text", "text": "37.08", "color": "#131722", "fontSize": 20},
         "encoding": {"x": {"datum": {"year":2025,"month":10,"date":2,"hours":20,"minutes":0,"utc":true}, "type": "temporal"}, "y": {"datum": 37.05}}},

        {"mark": {"type": "rule", "color": "#eceef2", "strokeWidth": 1.5},
         "encoding": {"x": {"datum": {"year":2025,"month":9,"date":6,"hours":23,"minutes":16,"utc":true}, "type": "temporal"}, "x2": {"datum": {"year":2025,"month":10,"date":4,"hours":23,"minutes":42,"utc":true}}, "y": {"datum": 262.95}}},
        {"mark": {"type": "rule", "color": "#eceef2", "strokeWidth": 1.5},
         "encoding": {"x": {"datum": {"year":2025,"month":9,"date":6,"hours":23,"minutes":16,"utc":true}, "type": "temporal"}, "x2": {"datum": {"year":2025,"month":10,"date":4,"hours":23,"minutes":42,"utc":true}}, "y": {"datum": -16.29}}},
        {"mark": {"type": "rule", "color": "#eceef2", "strokeWidth": 1.5},
         "encoding": {"x": {"datum": {"year":2025,"month":9,"date":6,"hours":23,"minutes":16,"utc":true}, "type": "temporal"}, "y": {"datum": 262.95}, "y2": {"datum": -16.29}}},
        {"mark": {"type": "rule", "color": "#eceef2", "strokeWidth": 1.5},
         "encoding": {"x": {"datum": {"year":2025,"month":10,"date":4,"hours":23,"minutes":42,"utc":true}, "type": "temporal"}, "y": {"datum": 262.95}, "y2": {"datum": -16.29}}},
        {"mark": {"type": "rule", "color": "#e0e3eb", "strokeWidth": 2},
         "encoding": {"x": {"datum": {"year":2025,"month":10,"date":2,"hours":13,"minutes":32,"utc":true}, "type": "temporal"}, "y": {"datum": 262.95}, "y2": {"datum": -16.29}}},
        {"mark": {"type": "rule", "color": "#e0e3eb", "strokeWidth": 2},
         "encoding": {"x": {"datum": {"year":2025,"month":9,"date":6,"hours":23,"minutes":16,"utc":true}, "type": "temporal"}, "x2": {"datum": {"year":2025,"month":10,"date":4,"hours":23,"minutes":42,"utc":true}}, "y": {"datum": 86.19}}},
        {"mark": {"type": "rule", "color": "#e0e3eb", "strokeWidth": 2},
         "encoding": {"x": {"datum": {"year":2025,"month":9,"date":6,"hours":23,"minutes":16,"utc":true}, "type": "temporal"}, "x2": {"datum": {"year":2025,"month":10,"date":4,"hours":23,"minutes":42,"utc":true}}, "y": {"datum": 4.667}}},

        {"mark": {"type": "rect", "color": "#131722"},
         "encoding": {"x": {"datum": {"year":2025,"month":9,"date":7,"hours":0,"minutes":44,"utc":true}, "type": "temporal"}, "x2": {"datum": {"year":2025,"month":9,"date":7,"hours":11,"minutes":20,"utc":true}},
           "y": {"datum": -33.81}, "y2": {"datum": -38.0}}},
        {"mark": {"type": "rect", "color": "#131722"},
         "encoding": {"x": {"datum": {"year":2025,"month":9,"date":7,"hours":5,"minutes":29,"utc":true}, "type": "temporal"}, "x2": {"datum": {"year":2025,"month":9,"date":7,"hours":11,"minutes":20,"utc":true}},
           "y": {"datum": -37.9}, "y2": {"datum": -44.86}}},
        {"mark": {"type": "point", "shape": "circle", "filled": true, "color": "#131722", "opacity": 1, "size": 85},
         "encoding": {"x": {"datum": {"year":2025,"month":9,"date":7,"hours":13,"minutes":54,"utc":true}, "type": "temporal"}, "y": {"datum": -35.71}}},
        {"mark": {"type": "rule", "color": "#131722", "strokeWidth": 13},
         "encoding": {"x": {"datum": {"year":2025,"month":9,"date":7,"hours":19,"minutes":45,"utc":true}, "type": "temporal"}, "y": {"datum": -34.19},
           "x2": {"datum": {"year":2025,"month":9,"date":7,"hours":15,"minutes":44,"utc":true}}, "y2": {"datum": -44.48}}},
        {"mark": {"type": "text", "text": "TradingView", "font": "Inter", "fontWeight": "bold", "fontSize": 40, "baseline": "alphabetic", "color": "#131722"},
         "encoding": {"x": {"datum": {"year":2025,"month":9,"date":8,"hours":3,"minutes":26,"utc":true}, "type": "temporal"}, "y": {"datum": -44.86}}}
      ]
    }
  ]
}
